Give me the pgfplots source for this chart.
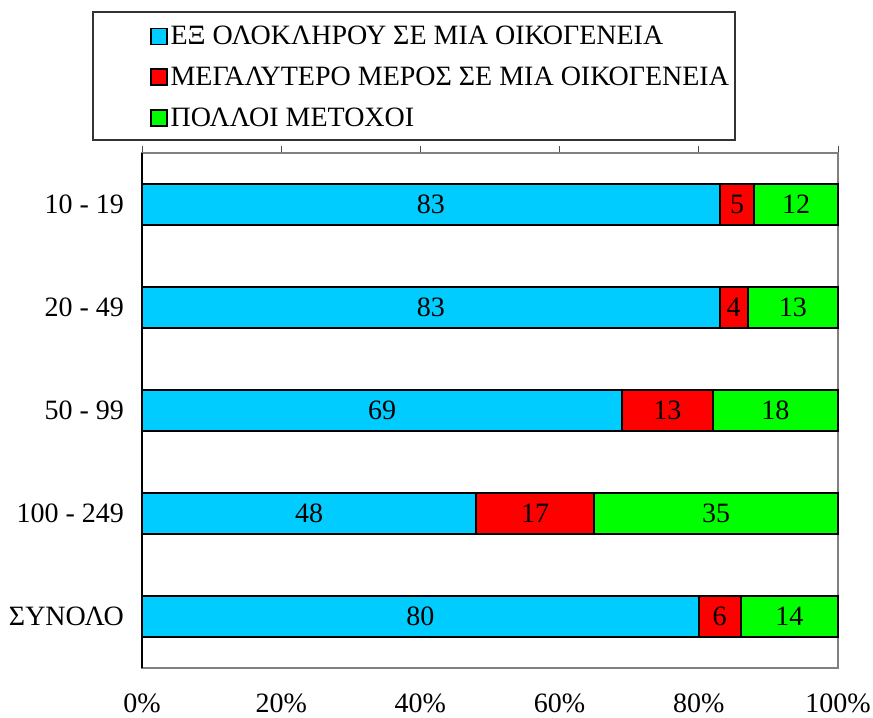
\documentclass[border=0pt]{standalone}
\usepackage{pgfplots}
\pgfplotsset{compat=1.18}
\usepackage{fontspec}
\setmainfont{Liberation Serif}
\definecolor{barblue}{HTML}{00CCFF}
\definecolor{barred}{HTML}{FF0000}
\definecolor{bargreen}{HTML}{00FF00}

\begin{document}
\begin{tikzpicture}[font=\fontsize{21}{24}\selectfont]
  % frame of the whole picture: 1px = 0.75pt
  \useasboundingbox (-106.5pt,-36.75pt) rectangle (548.25pt,501pt);
  \begin{axis}[
    xbar stacked,
    scale only axis,
    clip=false,
    width=522pt, height=386.25pt,
    xmin=0, xmax=100,
    ymin=-0.5, ymax=4.5,
    y dir=reverse,
    bar width=30.75pt,
    /pgf/number format/assume math mode=true,
    xtick={0,20,...,100},
    xticklabels={0\%,20\%,40\%,60\%,80\%,100\%},
    xtick pos=right,
    xticklabel pos=left,
    xticklabel style={yshift=-11pt},
    ytick={0,...,4},
    yticklabels={10 - 19,20 - 49,50 - 99,100 - 249,ΣΥΝΟΛΟ},
    ytick pos=left,
    ytick style={draw=none},
    minor ytick={-0.5,0.5,...,4.5},
    yticklabel style={xshift=-5pt},
    tick align=outside,
    major tick length=5pt,
    minor tick length=6pt,
    axis line style={gray, line width=0.8pt},
    every tick/.style={black!70, line width=0.6pt},
    nodes near coords,
    every node near coord/.append style={font=\fontsize{21}{24}\selectfont, black},
    legend style={draw=none, fill=none, inner sep=0pt,
      at={(axis description cs:0.0115,1.2515)}, anchor=north west,
      row sep=11pt, cells={anchor=west}},
    legend image code/.code={\draw[#1, line width=1.2pt] (0pt,-6pt) rectangle (12pt,6pt);},
  ]
    \addplot[fill=barblue, draw=black, line width=1.5pt] coordinates {(83,0) (83,1) (69,2) (48,3) (80,4)};
    \addplot[fill=barred, draw=black, line width=1.5pt] coordinates {(5,0) (4,1) (13,2) (17,3) (6,4)};
    \addplot[fill=bargreen, draw=black, line width=1.5pt] coordinates {(12,0) (13,1) (18,2) (35,3) (14,4)};
    \legend{ΕΞ ΟΛΟΚΛΗΡΟΥ ΣΕ ΜΙΑ ΟΙΚΟΓΕΝΕΙΑ,ΜΕΓΑΛΥΤΕΡΟ ΜΕΡΟΣ ΣΕ ΜΙΑ ΟΙΚΟΓΕΝΕΙΑ,ΠΟΛΛΟΙ ΜΕΤΟΧΟΙ}
    \draw[black, line width=1.5pt] (axis description cs:0,0) -- (axis description cs:0,1);
    \draw[black!80, line width=0.8pt] (axis description cs:-0.0704,1.2738) rectangle (axis description cs:0.852,1.0252);
  \end{axis}
\end{tikzpicture}
\end{document}
